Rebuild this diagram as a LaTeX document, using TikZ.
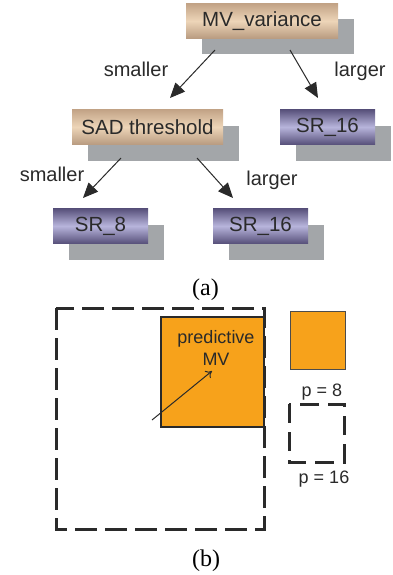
\documentclass[tikz,border=0pt]{standalone}
\usepackage{fontspec}
\setmainfont{Liberation Serif}
\newfontfamily\arialf{Liberation Sans}
\usetikzlibrary{arrows.meta,shadows,calc}
\definecolor{shadowgray}{HTML}{A3A6A9}
\definecolor{tantop}{HTML}{C2A386}
\definecolor{tanmid}{HTML}{EDD5B8}
\definecolor{tanbot}{HTML}{B89B80}
\definecolor{purtop}{HTML}{57507A}
\definecolor{purmid}{HTML}{B8B5DC}
\definecolor{orangefill}{HTML}{F7A21B}
\definecolor{darkline}{HTML}{2A2A2A}
\tikzset{
  box/.style={minimum height=35pt, inner sep=0pt,
    font=\arialf\fontsize{20.5}{24}\selectfont, text=darkline,
    general shadow={shadow xshift=16pt, shadow yshift=-16pt, fill=shadowgray}},
  tanbox/.style={box, top color=tantop, bottom color=tanbot, middle color=tanmid},
  purbox/.style={box, top color=purtop, bottom color=purtop, middle color=purmid},
  arr/.style={line width=1pt, draw=darkline, -{Triangle[length=15pt,width=13pt]}},
  lbl/.style={font=\arialf\fontsize{20}{24}\selectfont, text=darkline, anchor=base, inner sep=0pt},
  slbl/.style={font=\arialf\fontsize{18}{22}\selectfont, text=darkline, anchor=base, inner sep=0pt},
  caption/.style={font=\fontsize{24}{28}\selectfont, anchor=base, inner sep=0pt},
  dashbox/.style={draw=darkline, line width=3pt, dash pattern=on 22pt off 8pt},
  sdashbox/.style={draw=darkline, line width=3pt, dash pattern=on 19pt off 9pt},
}
\begin{document}
\begin{tikzpicture}[x=1pt,y=-1pt]
\useasboundingbox (0,0) rectangle (392,575);
% (a) decision tree
\node[tanbox, minimum width=152pt] (mv) at (262,21) {MV\_variance};
\node[tanbox, minimum width=151pt] (sad) at (147.5,127) {SAD threshold};
\node[purbox, minimum width=95pt] (sr16a) at (327.5,127) {SR\_16};
\node[purbox, minimum width=95pt] (sr8) at (100.5,226) {SR\_8};
\node[purbox, minimum width=95pt] (sr16b) at (260.5,226) {SR\_16};

\coordinate (mvL) at (215,50);
\coordinate (mvR) at (290,50);
\coordinate (sadT) at (170,98);
\coordinate (srT) at (318,98);
\coordinate (sadL) at (121,158);
\coordinate (sadR) at (197,158);
\coordinate (sr8T) at (83,198);
\coordinate (sr16T) at (233,198);
\draw[arr] (mvL) -- (sadT);
\draw[arr] (mvR) -- (srT);
\draw[arr] (sadL) -- (sr8T);
\draw[arr] (sadR) -- (sr16T);

\node[lbl] (l1) at (136,77) {smaller};
\node[lbl] (l2) at (360,77) {larger};
\node[lbl] (l3) at (52,181) {smaller};
\node[lbl] (l4) at (272,185) {larger};

\node[caption] (capa) at (205.5,295) {(a)};

% (b)
\draw[dashbox] (56,308) rectangle (264,529);
\node[draw=darkline, line width=1.2pt, fill=orangefill, minimum width=103pt, minimum height=110pt, inner sep=0pt] (pred) at (212.5,372) {};
\node[slbl] (pt1) at (216,343) {predictive};
\node[slbl] (pt2) at (216,365) {MV};
\coordinate (mvstart) at (152,420);
\coordinate (mvend) at (212,371);
\draw[line width=1pt, draw=darkline, -{To[length=6pt,width=9pt]}] (mvstart) -- (mvend);

\node[draw=black!70, line width=0.8pt, fill=orangefill, minimum width=55pt, minimum height=58pt, inner sep=0pt] (p8) at (317.5,340) {};
\node[slbl] (p8l) at (322,396) {p = 8};
\draw[sdashbox] (289,404) rectangle (344,462);
\node[slbl] (p16l) at (324,483) {p = 16};

\node[caption] (capb) at (206,566) {(b)};
\end{tikzpicture}
\end{document}
